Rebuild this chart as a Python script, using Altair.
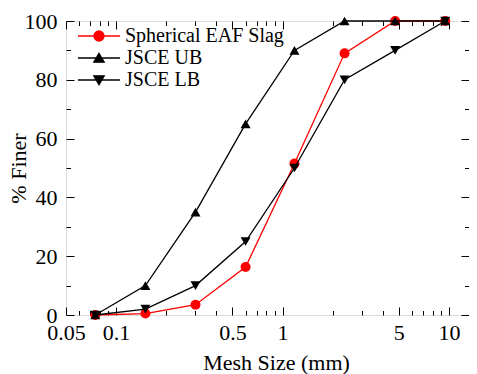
import altair as alt
import pandas as pd

# ---- data ----
mesh_sizes = [0.075, 0.15, 0.3, 0.6, 1.18, 2.36, 4.75, 9.5]
eaf_slag = [0, 0.5, 3.5, 16.3, 51.5, 89, 100, 100]
jsce_ub = [0, 10, 35, 65, 90, 100, 100, 100]
jsce_lb = [0, 2, 10, 25, 50, 80, 90, 100]

series_names = ["Spherical EAF Slag", "JSCE UB", "JSCE LB"]
series_colors = ["#ff0000", "#000000", "#000000"]
series_shapes = ["circle", "triangle-up", "triangle-down"]
# legend symbols: a line segment with the marker in the middle
legend_paths = [
    "M-2.1,0L2.1,0M-0.5,0A0.5,0.5,0,1,0,0.5,0A0.5,0.5,0,1,0,-0.5,0Z",
    "M-2.1,0L2.1,0M0,-0.46L0.52,0.42L-0.52,0.42Z",
    "M-2.1,0L2.1,0M0,0.46L0.52,-0.42L-0.52,-0.42Z",
]

x_major = [0.05, 0.1, 0.5, 1, 5, 10]
x_minor = [0.06, 0.07, 0.08, 0.09, 0.2, 0.3, 0.4, 0.6, 0.7, 0.8, 0.9,
           2, 3, 4, 6, 7, 8, 9]
y_major = [0, 20, 40, 60, 80, 100]
y_minor = [10, 30, 50, 70, 90]

rows = []
for name, vals in zip(series_names, [eaf_slag, jsce_ub, jsce_lb]):
    for s, v in zip(mesh_sizes, vals):
        rows.append({"series": name, "size": s, "finer": v})
df = pd.DataFrame(rows)

W, H = 403, 294
FONT = "Liberation Serif"

xs = alt.Scale(type="log", domain=[0.05, 13.2], nice=False)
ys = alt.Scale(domain=[0, 100], nice=False, zero=True)


def tick_axis(orient, offset, values, size):
    return alt.Axis(orient=orient, offset=offset, values=values, labels=False,
                    domain=False, grid=False, ticks=True, tickSize=size,
                    tickColor="black", tickWidth=1, title=None)


x_label_axis = alt.Axis(
    orient="bottom", values=x_major, labelExpr="datum.value", ticks=False,
    tickSize=0, domain=False, grid=False, labelPadding=7, labelFont=FONT,
    labelFontSize=22, labelColor="black", labelFlush=False, labelOverlap=False,
    title="Mesh Size (mm)", titleFont=FONT, titleFontSize=22,
    titleFontWeight="normal", titleColor="black", titleX=210, titleY=54,
    titleAlign="center", titleBaseline="alphabetic")
y_label_axis = alt.Axis(
    orient="left", values=y_major, ticks=False, tickSize=0, domain=False,
    grid=False, labelPadding=9, labelFont=FONT, labelFontSize=22,
    labelColor="black", labelFlush=False, labelOverlap=False,
    title="% Finer", titleFont=FONT, titleFontSize=22,
    titleFontWeight="normal", titleColor="black", titleX=-48, titleY=147,
    titleAngle=270, titleAlign="center", titleBaseline="middle")

axis_pairs = [
    (x_label_axis, y_label_axis),
    (tick_axis("top", -H, x_major, 8), tick_axis("right", -W, y_major, 8)),
    (tick_axis("top", -H, x_minor, 4.5), tick_axis("right", -W, y_minor, 4.5)),
    (tick_axis("bottom", -H, x_major, 8), tick_axis("left", -W, y_major, 8)),
    (tick_axis("bottom", -H, x_minor, 4.5), tick_axis("left", -W, y_minor, 4.5)),
    (None, None),
]

base = alt.Chart(df)
layers = []
k = 0
for name, col, shp in zip(series_names, series_colors, series_shapes):
    sub = base.transform_filter(alt.datum.series == name)
    ax_l = axis_pairs[k]
    k += 1
    ax_p = axis_pairs[k]
    k += 1
    line = sub.mark_line(color=col, strokeWidth=1.3).encode(
        x=alt.X("size:Q", scale=xs, axis=ax_l[0]),
        y=alt.Y("finer:Q", scale=ys, axis=ax_l[1]),
    )
    pts = sub.mark_point(shape=shp, filled=True, color=col, size=100,
                         opacity=1).encode(
        x=alt.X("size:Q", scale=xs, axis=ax_p[0]),
        y=alt.Y("finer:Q", scale=ys, axis=ax_p[1]),
    )
    layers += [line, pts]

leg = alt.Legend(title=None, orient="none", legendX=12, legendY=4, padding=0,
                 labelFont=FONT, labelFontSize=20, labelColor="black",
                 labelOffset=15, symbolOffset=10, symbolSize=400,
                 symbolStrokeWidth=1.3, rowPadding=1, labelLimit=400)
legend_layer = base.transform_filter("false").mark_point(
    opacity=1, strokeWidth=1.3, filled=True).encode(
    shape=alt.Shape("series:N", scale=alt.Scale(domain=series_names,
                                                 range=legend_paths), legend=leg),
    fill=alt.Fill("series:N", scale=alt.Scale(domain=series_names,
                                               range=series_colors), legend=leg),
    stroke=alt.Stroke("series:N", scale=alt.Scale(domain=series_names,
                                                   range=series_colors), legend=leg),
)
layers.append(legend_layer)

chart = alt.layer(*layers).resolve_axis(x="independent", y="independent").properties(
    width=W, height=H,
    autosize=alt.AutoSizeParams(type="none"),
    padding={"left": 58, "top": 13, "right": 0, "bottom": 59},
).configure_view(stroke="black", strokeWidth=1.2).configure(
    background="white", font=FONT
).configure_axis(
    labelFont=FONT, titleFont=FONT, labelFontSize=22, titleFontSize=22
).configure_legend(labelFont=FONT)

chart.save("out.html", embed_options={"renderer": "svg", "actions": False})
